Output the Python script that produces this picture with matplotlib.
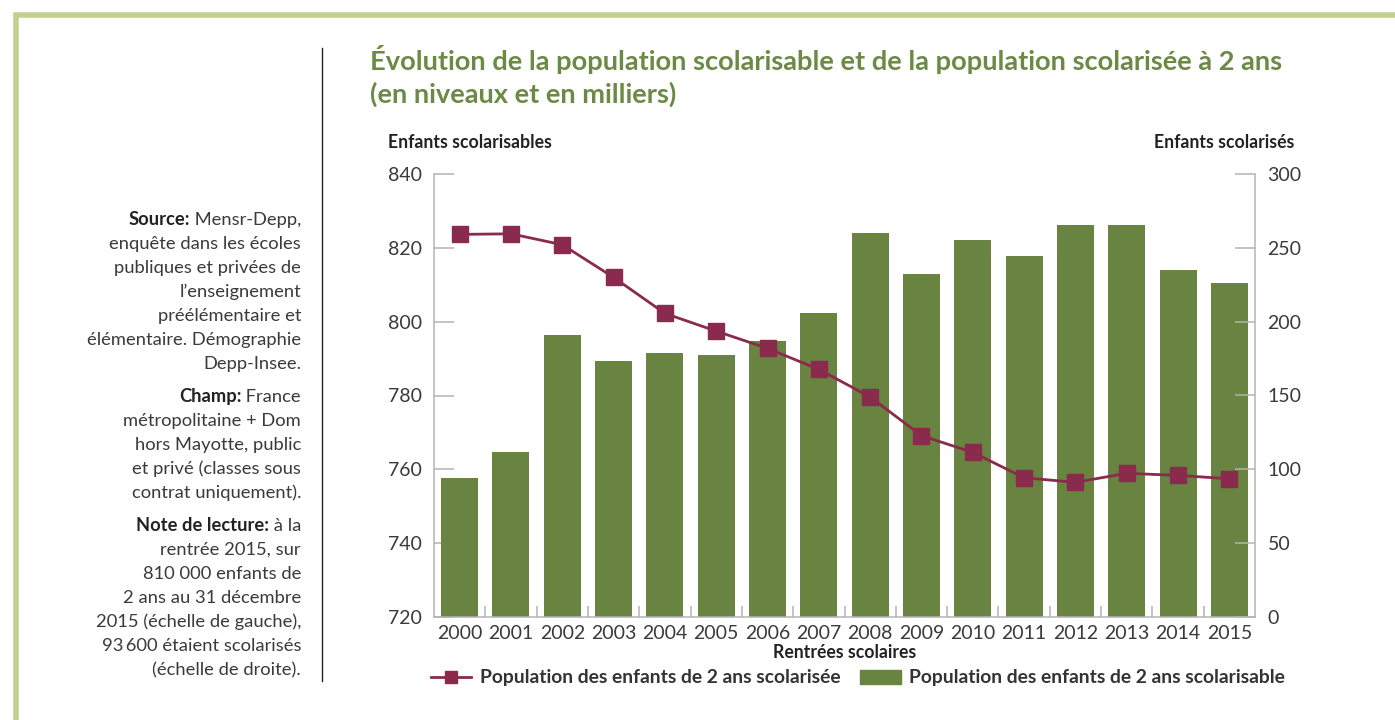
import matplotlib.pyplot as plt
import numpy as np
from matplotlib.lines import Line2D
from matplotlib.patches import Rectangle

plt.rcParams['font.family'] = ['Lato', 'DejaVu Sans']

# données (en milliers)
annees = ['2000', '2001', '2002', '2003', '2004', '2005', '2006', '2007',
          '2008', '2009', '2010', '2011', '2012', '2013', '2014', '2015']
scolarisable = [757.6, 764.7, 796.4, 789.3, 791.5, 790.9, 794.7, 802.3,
                824.0, 812.9, 822.1, 817.8, 826.2, 826.2, 814.0, 810.4]
scolarisee = [259.1, 259.5, 252.1, 230.0, 205.6, 193.6, 181.9, 167.7,
              149.0, 122.8, 111.5, 94.3, 91.2, 97.3, 95.9, 93.6]

VERT = '#688440'
BORDEAUX = '#8a2a4c'
GRIS = '#b4b4b4'
TEXTE = '#3a3a3a'
W, H = 1395, 720


def fx(px):
    return px / W


def fy(py):
    return 1 - py / H


fig = plt.figure(figsize=(13.95, 7.2), dpi=100)

# cadre vert clair et trait de séparation
fig.add_artist(Rectangle((fx(16.2), -0.1), 1.2, fy(14.7) + 0.1, fill=False,
                         edgecolor='#bfd18b', linewidth=4, transform=fig.transFigure))
fig.add_artist(Line2D([fx(322), fx(322)], [fy(48), fy(681)], color='#222222',
                      linewidth=1, transform=fig.transFigure))

# titre
fig.text(fx(370), fy(59), 'Évolution de la population scolarisable et de la population scolarisée à 2 ans',
         fontsize=19.6, fontweight='bold', color='#6b8a45', va='center')
fig.text(fx(370), fy(94), '(en niveaux et en milliers)',
         fontsize=19.6, fontweight='bold', color='#6b8a45', va='center')

# graphique
ax = fig.add_axes([fx(434), fy(617), fx(821), 443 / H])
x = np.arange(len(annees))
ax.bar(x, scolarisable, width=0.72, color=VERT, zorder=2)
ax.set_xlim(-0.5, len(annees) - 0.5)
ax.set_ylim(720, 840)
ax.set_yticks(range(720, 841, 20))
ax.set_xticks(x, annees)
ax.set_xticks(x[:-1] + 0.5, minor=True)
ax.tick_params(axis='x', which='major', length=0, pad=6, labelsize=14, labelcolor=TEXTE)
ax.tick_params(axis='x', which='minor', direction='in', length=7.7, color=GRIS, width=1.1)
ax.tick_params(axis='y', direction='in', length=14.4, color=GRIS, width=1.1, pad=8.6,
               labelsize=14, labelcolor=TEXTE)
for s in ['top', 'right']:
    ax.spines[s].set_visible(False)
for s in ['left', 'bottom']:
    ax.spines[s].set_color(GRIS)
    ax.spines[s].set_linewidth(1.1)

ax2 = ax.twinx()
ax2.plot(x, scolarisee, color=BORDEAUX, linewidth=2, marker='s', markersize=12, zorder=3)
ax2.set_ylim(0, 300)
ax2.set_yticks(range(0, 301, 50))
ax2.tick_params(axis='y', direction='in', length=14.4, color=GRIS, width=1.1, pad=9,
                labelsize=14, labelcolor=TEXTE)
for s in ['top', 'left', 'bottom']:
    ax2.spines[s].set_visible(False)
ax2.spines['right'].set_color(GRIS)
ax2.spines['right'].set_linewidth(1.1)

# notes à gauche
blocs = [
    (220, 'Source:', [' Mensr-Depp,', 'enquête dans les écoles', 'publiques et privées de',
                      'l’enseignement', 'préélémentaire et', 'élémentaire. Démographie',
                      'Depp-Insee.']),
    (397, 'Champ:', [' France', 'métropolitaine + Dom', 'hors Mayotte, public',
                     'et privé (classes sous', 'contrat uniquement).']),
    (526, 'Note de lecture:', [' à la', 'rentrée 2015, sur', '810 000 enfants de',
                               '2 ans au 31 décembre', '2015 (échelle de gauche),',
                               '93\u2009600 étaient scolarisés', '(échelle de droite).']),
]
for y0, tete, lignes in blocs:
    for i, l in enumerate(lignes):
        t = fig.text(fx(301), fy(y0 + 24 * i), l, fontsize=13.2, color=TEXTE,
                     ha='right', va='center')
        if i == 0:
            ax.annotate(tete, xy=(0, 0), xycoords=t, fontsize=13.2, fontweight='bold',
                        color='#222222', ha='right', va='bottom', annotation_clip=False)

# titres des axes
fig.text(fx(388), fy(143), 'Enfants scolarisables', fontsize=12.7, fontweight='bold',
         color='#222222', va='center')
fig.text(fx(1294), fy(143), 'Enfants scolarisés', fontsize=12.7, fontweight='bold',
         color='#222222', va='center', ha='right')
fig.text(fx(844.5), fy(653), 'Rentrées scolaires', fontsize=12.7, fontweight='bold',
         color='#222222', va='center', ha='center')

# légende
poignees = [Line2D([], [], color=BORDEAUX, linewidth=2, marker='s', markersize=9),
            Rectangle((0, 0), 1, 1, color=VERT)]
etiquettes = ['Population des enfants de 2 ans scolarisée',
              'Population des enfants de 2 ans scolarisable']
fig.legend(poignees, etiquettes, loc='center', bbox_to_anchor=(fx(858), fy(678)), ncol=2,
           frameon=False, prop={'weight': 'bold', 'size': 13.9}, labelcolor='#333333',
           handlelength=2.1, handletextpad=0.45, columnspacing=1.0)

fig.savefig('out.png', dpi=100)
